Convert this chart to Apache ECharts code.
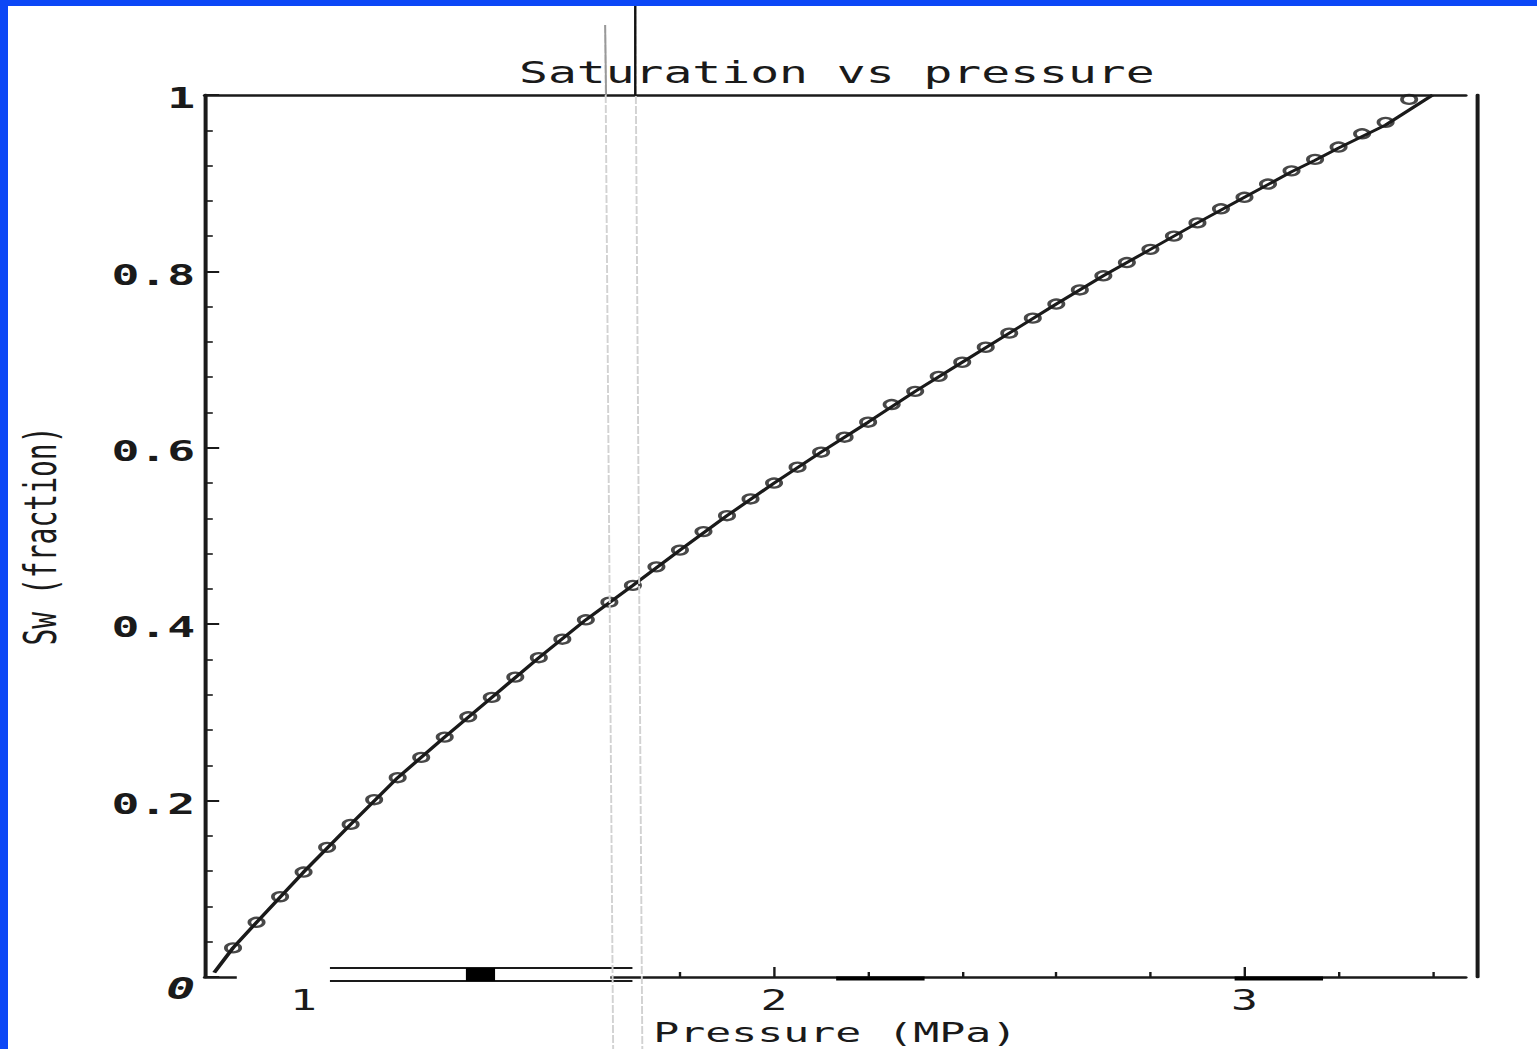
<!DOCTYPE html>
<html><head><meta charset="utf-8">
<script src="https://cdn.jsdelivr.net/npm/echarts@6/dist/echarts.min.js"></script>
<style>
html,body{margin:0;padding:0;width:1537px;height:1049px;overflow:hidden;background:#0c47f6;}
#wrap{position:absolute;left:8px;top:6px;width:1529px;height:1043px;background:#fff;overflow:hidden;}
#chart{position:absolute;left:0;top:0;width:956px;height:1043px;transform:scaleX(1.6);transform-origin:0 0;}
</style></head><body><div id="wrap"><div id="chart"></div></div>
<script>
// ---- data ----
const pressure = [0.85,0.90,0.95,1.00,1.05,1.10,1.15,1.20,1.25,1.30,
  1.35,1.40,1.45,1.50,1.55,1.60,1.65,1.70,1.75,1.80,
  1.85,1.90,1.95,2.00,2.05,2.10,2.15,2.20,2.25,2.30,
  2.35,2.40,2.45,2.50,2.55,2.60,2.65,2.70,2.75,2.80,
  2.85,2.90,2.95,3.00,3.05,3.10,3.15,3.20,3.25,3.30,3.35];
const swMeasured = [0.033,0.062,0.091,0.119,0.147,0.173,0.201,0.226,0.249,0.272,
  0.295,0.317,0.340,0.362,0.383,0.405,0.425,0.444,0.465,0.484,
  0.505,0.523,0.542,0.560,0.578,0.595,0.612,0.629,0.649,0.664,
  0.681,0.697,0.714,0.730,0.747,0.763,0.779,0.795,0.810,0.825,
  0.840,0.855,0.871,0.884,0.899,0.914,0.927,0.941,0.956,0.969,0.995];
const fitPressure = [0.81,0.85,0.90,1.00,1.10,1.20,1.30,1.40,1.50,1.60,1.70,1.80,1.90,2.00,2.10,
  2.20,2.30,2.40,2.50,2.60,2.70,2.80,2.90,3.00,3.10,3.15,3.20,3.25,3.30,3.35,3.40];
const fitSw = [0.005,0.033,0.062,0.119,0.173,0.226,0.272,0.317,0.362,0.405,0.444,0.484,0.523,0.560,0.595,
  0.629,0.664,0.697,0.730,0.763,0.795,0.825,0.855,0.884,0.913,0.926,0.940,0.953,0.966,0.983,1.000];
const xLabelValues = [1,2,3];
const xMajorTickValues = [2,3];
const xMinorTickValues = [1.8,2.2,2.4,2.6,2.8,3.2,3.4];
const titleText = 'Saturation vs pressure';
const xName = 'Pressure (MPa)';
const yName = 'Sw (fraction)';

// ---- chart ----
const FONT = "'DejaVu Sans Mono', monospace";
const INK = '#1a1a1a';
const chart = echarts.init(document.getElementById('chart'), null, {renderer:'svg'});
const pairs = (a,b) => a.map((v,i)=>[v,b[i]]);
const XMIN = 0.79, XMAX = 3.47;

chart.setOption({
  animation:false,
  backgroundColor:'#fff',
  title:{text:titleText, left:518, top:52, textAlign:'center', padding:0,
    textStyle:{fontFamily:FONT, fontSize:30, fontWeight:'normal', color:INK}},
  grid:{left:123, top:89, width:788, height:882, outerBoundsMode:'none', containLabel:false},
  xAxis:[
    {type:'value', position:'bottom', min:XMIN, max:XMAX,
     name:xName, nameLocation:'middle', nameGap:42, nameMoveOverlap:false,
     nameTextStyle:{fontFamily:FONT, fontSize:27, color:INK},
     axisLine:{show:true, onZero:false, lineStyle:{color:INK, width:2.5}},
     axisTick:{show:true, inside:true, length:5, customValues:xMinorTickValues, lineStyle:{color:INK, width:1.5}},
     axisLabel:{show:true, customValues:xLabelValues, margin:9, formatter:v=>String(v),
       fontFamily:FONT, fontSize:28, color:INK},
     splitLine:{show:false}},
    {type:'value', position:'bottom', min:XMIN, max:XMAX,
     axisLine:{show:false},
     axisTick:{show:true, inside:true, length:10, customValues:xMajorTickValues, lineStyle:{color:INK, width:1.5}},
     axisLabel:{show:false}, splitLine:{show:false}},
    {type:'value', position:'top', min:XMIN, max:XMAX,
     axisLine:{show:true, onZero:false, lineStyle:{color:INK, width:2.5}},
     axisTick:{show:false}, axisLabel:{show:false}, splitLine:{show:false}}
  ],
  yAxis:[
    {type:'value', position:'left', min:0, max:1, interval:0.2,
     name:yName, nameLocation:'middle', nameGap:89,
     nameTextStyle:{fontFamily:FONT, fontSize:28, color:INK},
     axisLine:{show:true, onZero:false, lineStyle:{color:INK, width:2.5}},
     axisTick:{show:true, inside:true, length:9, lineStyle:{color:INK, width:2}},
     minorTick:{show:true, splitNumber:5, length:5, lineStyle:{color:INK, width:1.6}},
     axisLabel:{show:true, margin:6, fontFamily:FONT, fontSize:29, fontWeight:'bold', color:INK, padding:[6,0,0,0],
       formatter:v => v===0 ? '{z|0}' : (v===1 ? '1' : v.toFixed(1)),
       rich:{z:{fontFamily:FONT, fontSize:30, fontStyle:'italic', color:INK, padding:[18,0,0,0]}}},
     splitLine:{show:false}, minorSplitLine:{show:false}},
    {type:'value', position:'right', offset:7, min:0, max:1,
     axisLine:{show:true, onZero:false, lineStyle:{color:INK, width:2.5}},
     axisTick:{show:false}, axisLabel:{show:false}, splitLine:{show:false}}
  ],
  series:[
    {type:'scatter', name:'measured', xAxisIndex:0, yAxisIndex:0, data:pairs(pressure, swMeasured),
     symbol:'circle', symbolSize:9, z:2,
     itemStyle:{color:'rgba(0,0,0,0)', borderColor:INK, borderWidth:2.3}},
    {type:'line', name:'fit', xAxisIndex:0, yAxisIndex:0, data:pairs(fitPressure, fitSw),
     showSymbol:false, symbol:'none', z:3, lineStyle:{color:INK, width:2.6}}
  ]
});

// scan artefacts along the axes, placed through the axis scales
const X = v => chart.convertToPixel({xAxisIndex:0}, v);
const Y0 = chart.convertToPixel({yAxisIndex:0}, 0);
const H = chart.getHeight();
chart.setOption({graphic:[
  {type:'rect', silent:true, z:100, shape:{x:X(0.858), y:Y0-4, width:X(1.652)-X(0.858), height:8}, style:{fill:'#fff'}},
  {type:'line', silent:true, z:101, shape:{x1:X(1.056), y1:Y0-9, x2:X(1.699), y2:Y0-9}, style:{stroke:INK, lineWidth:2}},
  {type:'line', silent:true, z:101, shape:{x1:X(1.056), y1:Y0+4, x2:X(1.699), y2:Y0+4}, style:{stroke:INK, lineWidth:2}},
  {type:'rect', silent:true, z:101, shape:{x:X(1.345), y:Y0-9, width:X(1.407)-X(1.345), height:13}, style:{fill:'#000'}},
  {type:'line', silent:true, z:101, shape:{x1:X(2.132), y1:Y0+1.5, x2:X(2.32), y2:Y0+1.5}, style:{stroke:'#000', lineWidth:4}},
  {type:'line', silent:true, z:101, shape:{x1:X(2.979), y1:Y0+1.5, x2:X(3.167), y2:Y0+1.5}, style:{stroke:'#000', lineWidth:4}},
  {type:'line', silent:true, z:102, shape:{x1:X(1.641), y1:19, x2:X(1.658), y2:H}, style:{stroke:'#d2d2d2', lineWidth:1.2, lineDash:[8,2]}},
  {type:'line', silent:true, z:102, shape:{x1:X(1.705), y1:0, x2:X(1.720), y2:H}, style:{stroke:'#d2d2d2', lineWidth:1.2, lineDash:[8,2]}},
  {type:'line', silent:true, z:103, shape:{x1:X(1.641), y1:19, x2:X(1.643), y2:89}, style:{stroke:'#999', lineWidth:1.2}},
  {type:'line', silent:true, z:103, shape:{x1:X(1.705), y1:0, x2:X(1.705), y2:89}, style:{stroke:'#111', lineWidth:1.5}}
]});
</script></body></html>
